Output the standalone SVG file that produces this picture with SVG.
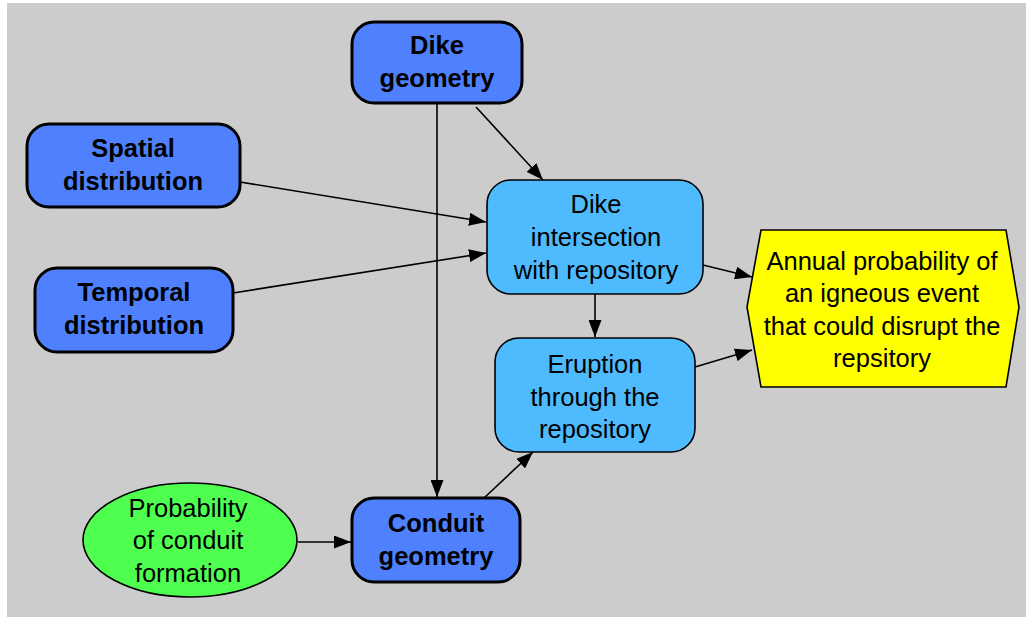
<svg xmlns="http://www.w3.org/2000/svg" width="1026" height="617" viewBox="0 0 1026 617">
<style>
.bg{fill:#cccccc}
.dk{fill:#4f81ff;stroke:#000;stroke-width:3}
.lt{fill:#4fbbff;stroke:#000;stroke-width:1.6}
.gr{fill:#4fff4f;stroke:#000;stroke-width:1.6}
.yl{fill:#ffff00;stroke:#000;stroke-width:1.6}
.tb{font-family:"Liberation Sans",Arial,sans-serif;font-weight:bold;font-size:25.5px;text-anchor:middle;fill:#000}
.tr{font-family:"Liberation Sans",Arial,sans-serif;font-size:25.5px;text-anchor:middle;fill:#000}
.cn line{stroke:#000;stroke-width:1.6;marker-end:url(#ah)}
</style>
<defs>
<marker id="ah" viewBox="0 0 17 13" refX="17" refY="6.5" markerWidth="17" markerHeight="13" markerUnits="userSpaceOnUse" orient="auto">
<path d="M0,0 L17,6.5 L0,13 Z" fill="#000"/>
</marker>
</defs>
<rect width="1026" height="617" fill="#fff"/>
<rect class="bg" x="7" y="3" width="1019" height="614"/>
<g class="cn">
<line x1="437" y1="103" x2="437" y2="497"/>
<line x1="476" y1="107" x2="543" y2="180"/>
<line x1="240" y1="182" x2="486" y2="222"/>
<line x1="233" y1="293" x2="486" y2="253"/>
<line x1="703" y1="265" x2="752" y2="277"/>
<line x1="595" y1="294" x2="595" y2="337"/>
<line x1="695" y1="367" x2="752" y2="350"/>
<line x1="484" y1="498" x2="533" y2="452"/>
<line x1="298" y1="542" x2="351" y2="542"/>
</g>
<g id="dike-geometry">
<rect class="dk" x="352" y="22" width="170" height="81" rx="22"/>
<text class="tb" x="437" y="54">Dike</text>
<text class="tb" x="437" y="87">geometry</text>
</g>
<g id="spatial-distribution">
<rect class="dk" x="27" y="124" width="213" height="83" rx="22"/>
<text class="tb" x="133" y="157">Spatial</text>
<text class="tb" x="133" y="190">distribution</text>
</g>
<g id="temporal-distribution">
<rect class="dk" x="35" y="268" width="198" height="84" rx="22"/>
<text class="tb" x="134" y="301">Temporal</text>
<text class="tb" x="134" y="334">distribution</text>
</g>
<g id="dike-intersection">
<rect class="lt" x="487" y="180" width="216" height="114" rx="24"/>
<text class="tr" x="596" y="213">Dike</text>
<text class="tr" x="596" y="246">intersection</text>
<text class="tr" x="596" y="279">with repository</text>
</g>
<g id="eruption">
<rect class="lt" x="495" y="338" width="200" height="114" rx="24"/>
<text class="tr" x="595" y="373">Eruption</text>
<text class="tr" x="595" y="406">through the</text>
<text class="tr" x="595" y="438">repository</text>
</g>
<g id="conduit-geometry">
<rect class="dk" x="352" y="498" width="168" height="84" rx="22"/>
<text class="tb" x="436" y="532">Conduit</text>
<text class="tb" x="436" y="565">geometry</text>
</g>
<g id="probability-conduit">
<ellipse class="gr" cx="190" cy="540" rx="107" ry="57"/>
<text class="tr" x="188" y="517">Probability</text>
<text class="tr" x="188" y="549">of conduit</text>
<text class="tr" x="188" y="582">formation</text>
</g>
<g id="annual-probability">
<polygon class="yl" points="761,230 1006,230 1019,307 1006,387 761,387 747,307"/>
<text class="tr" x="882" y="270">Annual probability of</text>
<text class="tr" x="882" y="302">an igneous event</text>
<text class="tr" x="882" y="335">that could disrupt the</text>
<text class="tr" x="882" y="367">repsitory</text>
</g>
</svg>
